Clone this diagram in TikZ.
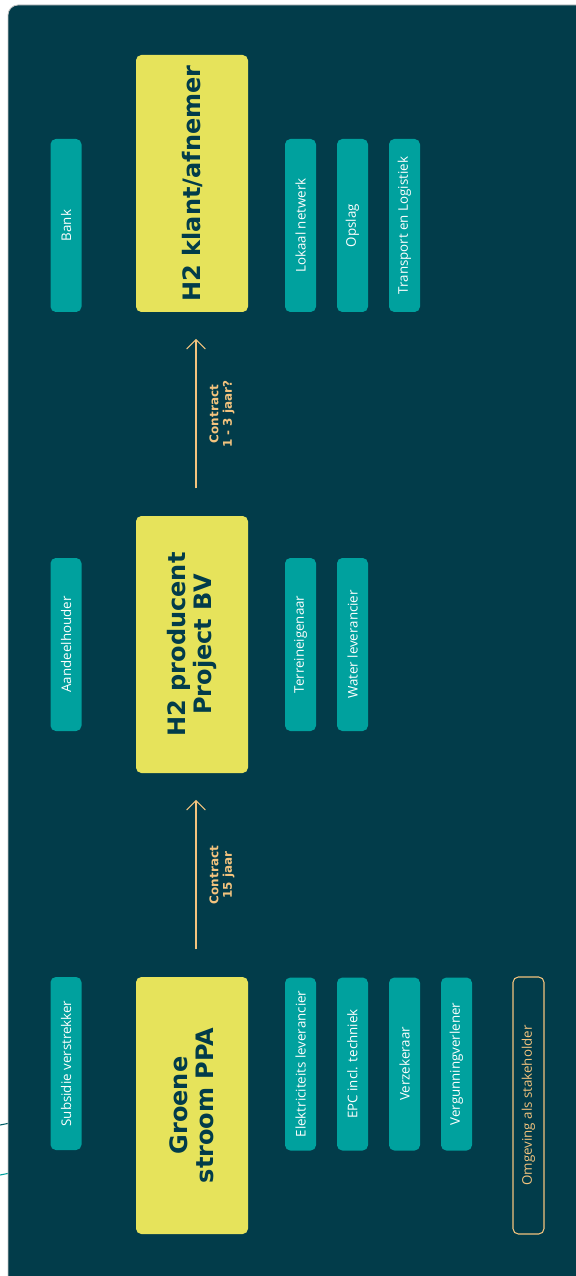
\documentclass[tikz,border=0pt]{standalone}
\usepackage{fontspec}
\setmainfont{Open Sans}
\newfontfamily\headfont{DejaVu Sans}
\usetikzlibrary{arrows.meta}
\definecolor{bgteal}{HTML}{023C4A}
\definecolor{boxyellow}{HTML}{E6E35B}
\definecolor{boxteal}{HTML}{00A19E}
\definecolor{contracttan}{HTML}{F3C37E}

\begin{document}
\begin{tikzpicture}[x=0.75pt, y=-0.75pt,
  party/.style={rotate=90, fill=boxyellow, rounded corners=4pt, minimum width=192.75pt, minimum height=84pt, inner sep=0pt, align=center, text=bgteal, font=\headfont\bfseries\fontsize{18}{19.5}\selectfont},
  actor/.style={rotate=90, fill=boxteal, rounded corners=4pt, minimum width=129.75pt, minimum height=23.25pt, inner sep=0pt, text=white, font=\fontsize{10}{12}\selectfont},
  contract/.style={draw=contracttan, line width=0.8pt, shorten <=20.5pt, shorten >=20pt, -{Straight Barb[length=7pt,width=14pt]}},
  term/.style={rotate=90, text=contracttan, align=center, font=\headfont\bfseries\fontsize{9}{10}\selectfont}]

\useasboundingbox (0,0) rectangle (575,1276);
\draw[boxteal!35!bgteal, line width=0.8pt] (0,1125) -- (10,1123);
\draw[boxteal, line width=0.8pt] (0,1175) -- (10,1173);
\fill[bgteal, draw=gray!45, line width=0.6pt, rounded corners=7.5pt] (8,5) rectangle (600,1300);

\node[party] (klant) at (192,183.5) {H2 klant/afnemer};
\node[party] (producent) at (192,644.5) {H2 producent\\Project BV};
\node[party] (groene) at (192,1105.5) {Groene\\stroom PPA};

\node[actor] (bank) at (66,225.5) {Bank};
\node[actor] (netwerk) at (300.5,225.5) {Lokaal netwerk};
\node[actor] (opslag) at (352.5,225.5) {Opslag};
\node[actor] (transport) at (404.5,225.5) {Transport en Logistiek};

\node[actor] (aandeelhouder) at (66,644.5) {Aandeelhouder};
\node[actor] (terrein) at (300.5,644.5) {Terreineigenaar};
\node[actor] (water) at (352.5,644.5) {Water leverancier};

\node[actor] (subsidie) at (66,1063.5) {Subsidie verstrekker};
\node[actor] (elektriciteit) at (300.5,1064) {Elektriciteits leverancier};
\node[actor] (epc) at (352.5,1064) {EPC incl. techniek};
\node[actor] (verzekeraar) at (404.5,1064) {Verzekeraar};
\node[actor] (vergunning) at (456.5,1064) {Vergunningverlener};
\node[actor, fill=none, draw=contracttan, line width=0.8pt, text=contracttan, minimum width=192.75pt] (omgeving) at (528.5,1105.5) {Omgeving als stakeholder};

\draw[contract] ([xshift=3pt]groene.east) -- node[xshift=19.5pt, term] {Contract\\15 jaar} ([xshift=3pt]producent.west);
\draw[contract] ([xshift=3pt]producent.east) -- node[xshift=19.5pt, term] {Contract\\1 - 3 jaar?} ([xshift=3pt]klant.west);

\end{tikzpicture}
\end{document}
